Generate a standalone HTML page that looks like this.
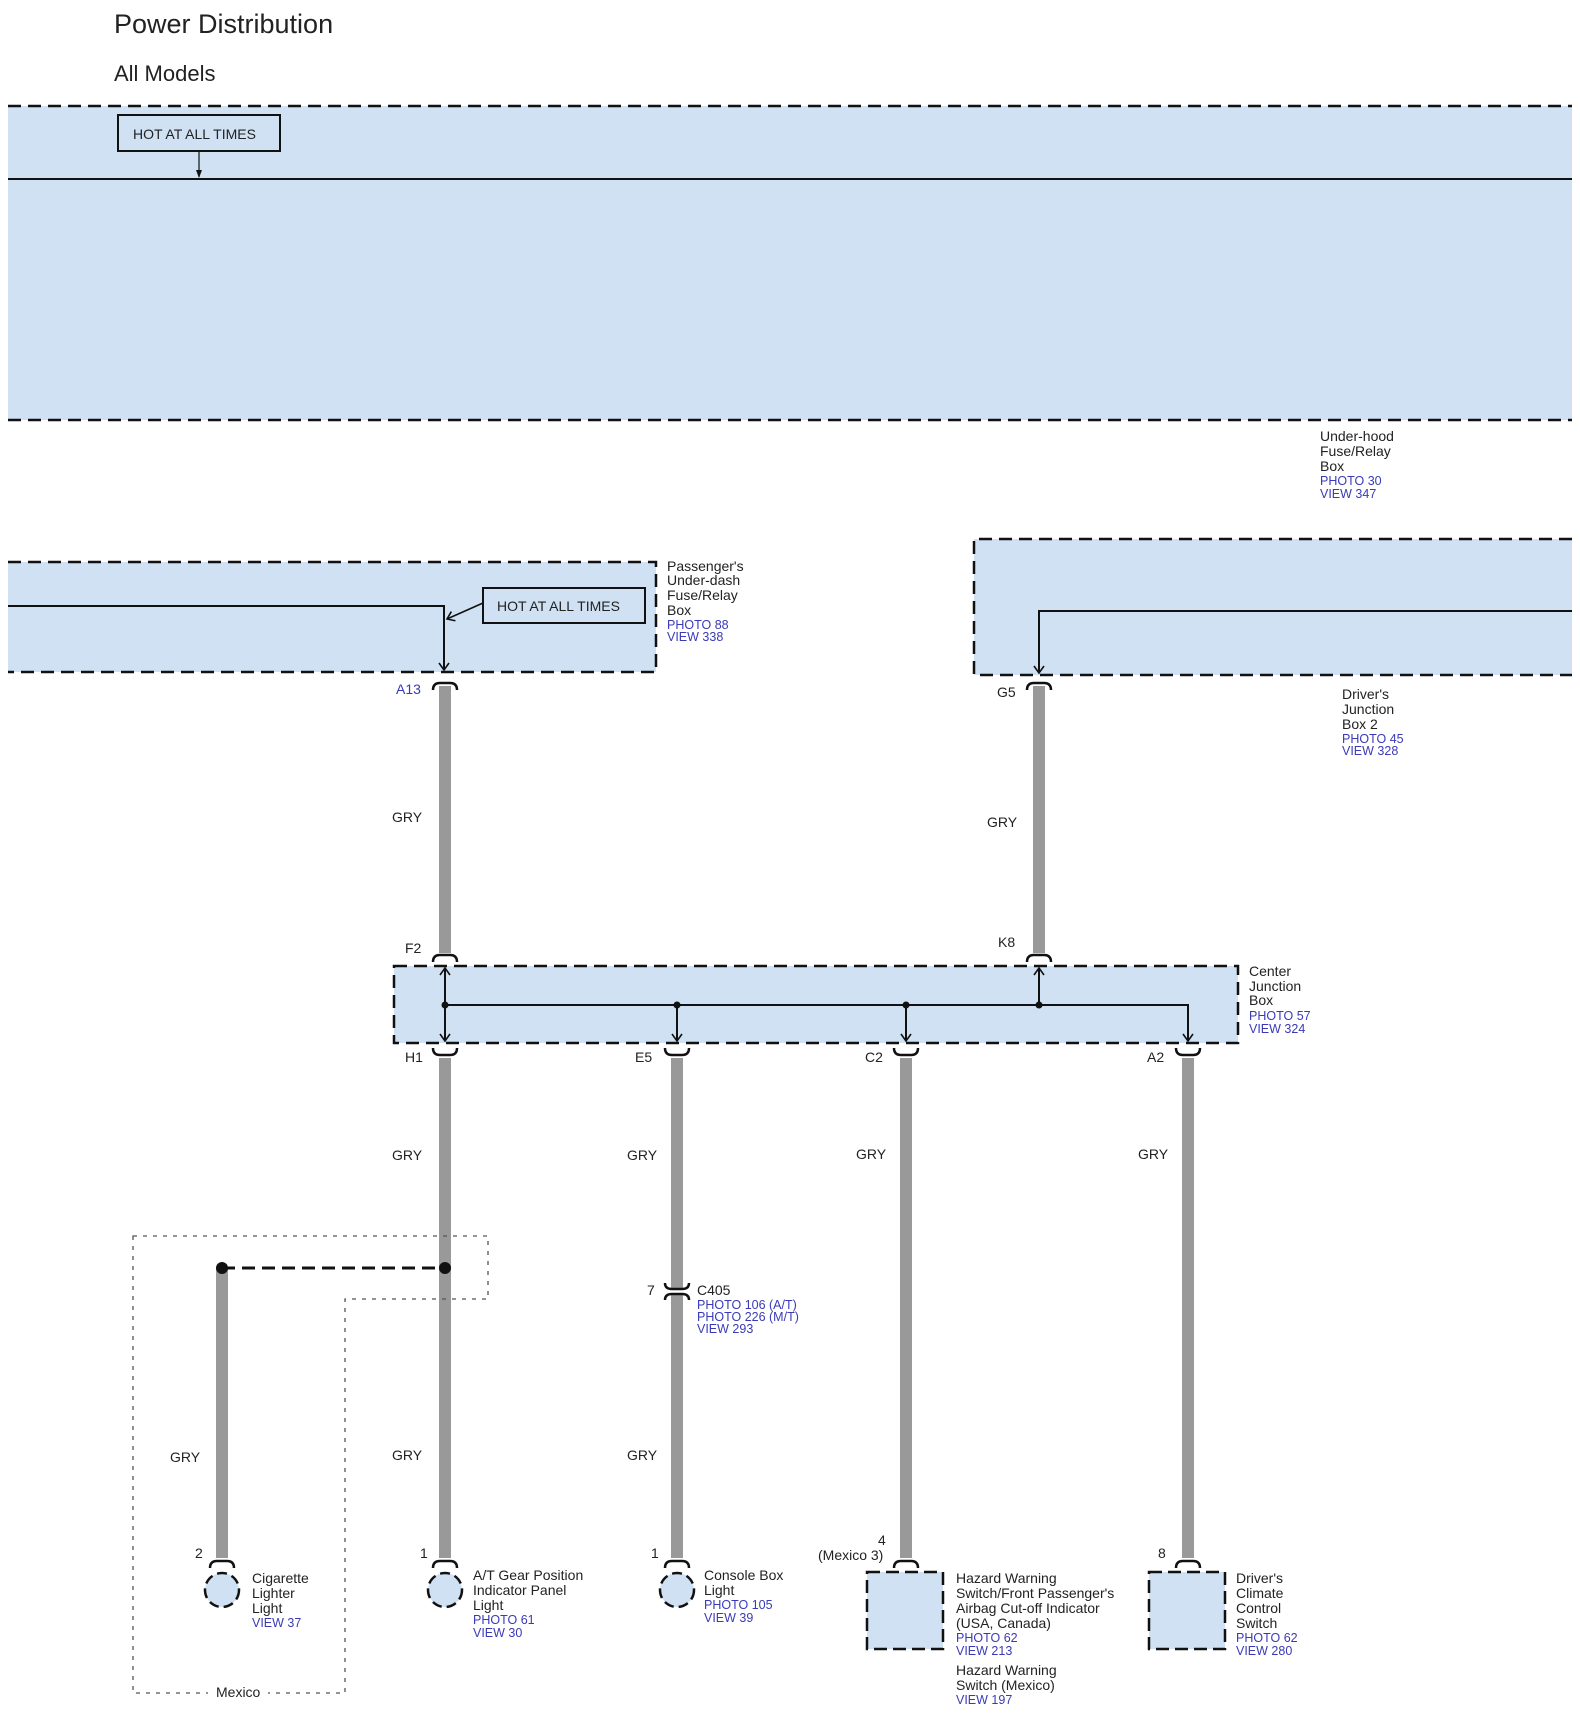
<!DOCTYPE html>
<html><head><meta charset="utf-8"><style>
body{margin:0;background:#fff;}
svg{display:block;}
text{font-family:"Liberation Sans",Arial,sans-serif;font-size:14px;fill:#222;}
.b{fill:#3a3ab8;font-size:12.5px;}
</style></head><body>
<svg width="1580" height="1714" viewBox="0 0 1580 1714" xmlns="http://www.w3.org/2000/svg">
<defs>
<marker id="ar" markerWidth="12" markerHeight="12" refX="10" refY="6" orient="auto" markerUnits="userSpaceOnUse">
<path d="M3,1 L10,6 L3,11" fill="none" stroke="#111" stroke-width="1.6"/>
</marker>
</defs>
<text x="114" y="33" style="font-size:27px">Power Distribution</text>
<text x="114" y="81" style="font-size:22px">All Models</text>

<rect x="8" y="106" width="1564" height="314" fill="#cfe1f3"/>
<line x1="8" y1="106" x2="1572" y2="106" stroke="#111" stroke-width="2.5" stroke-dasharray="13,7"/>
<line x1="8" y1="420" x2="1572" y2="420" stroke="#111" stroke-width="2.5" stroke-dasharray="13,7"/>
<line x1="8" y1="179" x2="1572" y2="179" stroke="#111" stroke-width="2"/>
<rect x="118" y="115" width="162" height="36" fill="#cfe1f3" stroke="#111" stroke-width="2"/>
<text x="133" y="139">HOT AT ALL TIMES</text>
<line x1="199" y1="151" x2="199" y2="177" stroke="#111" stroke-width="1.2"/>
<path d="M196,170 L199,178 L202,170" fill="#111"/>
<text x="1320" y="441">Under-hood</text>
<text x="1320" y="456">Fuse/Relay</text>
<text x="1320" y="471">Box</text>
<text x="1320" y="485" class="b">PHOTO 30</text>
<text x="1320" y="498" class="b">VIEW 347</text>

<rect x="8" y="562" width="648" height="110" fill="#cfe1f3"/>
<path d="M8,562 H656 V672 H8" fill="none" stroke="#111" stroke-width="2.5" stroke-dasharray="13,7"/>
<path d="M8,606 H444 V670" fill="none" stroke="#111" stroke-width="2" marker-end="url(#ar)"/>
<rect x="483" y="588" width="162" height="35" fill="#cfe1f3" stroke="#111" stroke-width="2"/>
<text x="497" y="611">HOT AT ALL TIMES</text>
<line x1="483" y1="603" x2="447" y2="619" stroke="#111" stroke-width="1.6" marker-end="url(#ar)"/>
<text x="667" y="571">Passenger's</text>
<text x="667" y="585">Under-dash</text>
<text x="667" y="600">Fuse/Relay</text>
<text x="667" y="615">Box</text>
<text x="667" y="629" class="b">PHOTO 88</text>
<text x="667" y="641" class="b">VIEW 338</text>

<rect x="974" y="539" width="598" height="136" fill="#cfe1f3"/>
<path d="M1572,539 H974 V675 H1572" fill="none" stroke="#111" stroke-width="2.5" stroke-dasharray="13,7"/>
<path d="M1572,611 H1039 V673" fill="none" stroke="#111" stroke-width="2" marker-end="url(#ar)"/>
<text x="1342" y="699">Driver's</text>
<text x="1342" y="714">Junction</text>
<text x="1342" y="729">Box 2</text>
<text x="1342" y="743" class="b">PHOTO 45</text>
<text x="1342" y="755" class="b">VIEW 328</text>

<g stroke="#999" stroke-width="12">
<line x1="445" y1="686" x2="445" y2="953"/>
<line x1="1039" y1="686" x2="1039" y2="953"/>
<line x1="445" y1="1058" x2="445" y2="1558"/>
<line x1="677" y1="1058" x2="677" y2="1558"/>
<line x1="906" y1="1058" x2="906" y2="1558"/>
<line x1="1188" y1="1058" x2="1188" y2="1558"/>
<line x1="222" y1="1268" x2="222" y2="1558"/>
</g>
<rect x="670" y="1288" width="14" height="7" fill="#fff"/>
<g fill="none" stroke="#111" stroke-width="2.5">
<path d="M433,690 Q433,683 440,683 H450 Q457,683 457,690"/>
<path d="M1027,690 Q1027,683 1034,683 H1044 Q1051,683 1051,690"/>
<path d="M433,962 Q433,955 440,955 H450 Q457,955 457,962"/>
<path d="M1027,962 Q1027,955 1034,955 H1044 Q1051,955 1051,962"/>
<path d="M433,1048 Q433,1055 440,1055 H450 Q457,1055 457,1048"/>
<path d="M665,1048 Q665,1055 672,1055 H682 Q689,1055 689,1048"/>
<path d="M894,1048 Q894,1055 901,1055 H911 Q918,1055 918,1048"/>
<path d="M1176,1048 Q1176,1055 1183,1055 H1193 Q1200,1055 1200,1048"/>
<path d="M665,1283 Q665,1289 672,1289 H682 Q689,1289 689,1283"/>
<path d="M665,1300 Q665,1294 672,1294 H682 Q689,1294 689,1300"/>
<path d="M210,1568 Q210,1561 217,1561 H227 Q234,1561 234,1568"/>
<path d="M433,1568 Q433,1561 440,1561 H450 Q457,1561 457,1568"/>
<path d="M665,1568 Q665,1561 672,1561 H682 Q689,1561 689,1568"/>
<path d="M894,1568 Q894,1561 901,1561 H911 Q918,1561 918,1568"/>
<path d="M1176,1568 Q1176,1561 1183,1561 H1193 Q1200,1561 1200,1568"/>
</g>
<text x="396" y="694" class="b" style="font-size:14px">A13</text>
<text x="997" y="697">G5</text>
<text x="392" y="822">GRY</text>
<text x="987" y="827">GRY</text>
<text x="405" y="953">F2</text>
<text x="998" y="947">K8</text>

<rect x="394" y="966" width="844" height="77" fill="#cfe1f3"/>
<rect x="394" y="966" width="844" height="77" fill="none" stroke="#111" stroke-width="2.5" stroke-dasharray="13,7"/>
<g stroke="#111" stroke-width="2" fill="none">
<path d="M445,1005 H1188 V1041" marker-end="url(#ar)"/>
<path d="M445,1005 V968" marker-end="url(#ar)"/>
<path d="M445,1005 V1041" marker-end="url(#ar)"/>
<path d="M677,1005 V1041" marker-end="url(#ar)"/>
<path d="M906,1005 V1041" marker-end="url(#ar)"/>
<path d="M1039,1005 V968" marker-end="url(#ar)"/>
</g>
<g fill="#111"><circle cx="445" cy="1005" r="3.5"/><circle cx="677" cy="1005" r="3.5"/><circle cx="906" cy="1005" r="3.5"/><circle cx="1039" cy="1005" r="3.5"/></g>
<text x="1249" y="976">Center</text>
<text x="1249" y="991">Junction</text>
<text x="1249" y="1005">Box</text>
<text x="1249" y="1020" class="b">PHOTO 57</text>
<text x="1249" y="1033" class="b">VIEW 324</text>

<text x="405" y="1062">H1</text>
<text x="635" y="1062">E5</text>
<text x="865" y="1062">C2</text>
<text x="1147" y="1062">A2</text>
<text x="392" y="1160">GRY</text>
<text x="627" y="1160">GRY</text>
<text x="856" y="1159">GRY</text>
<text x="1138" y="1159">GRY</text>

<path d="M133,1236 H488 V1299 H345 V1693 H133 Z" fill="none" stroke="#555" stroke-width="1.3" stroke-dasharray="4,6"/>
<rect x="208" y="1684" width="60" height="16" fill="#fff"/>
<text x="216" y="1697">Mexico</text>
<line x1="222" y1="1268" x2="445" y2="1268" stroke="#111" stroke-width="3" stroke-dasharray="13,7"/>
<circle cx="222" cy="1268" r="6" fill="#111"/>
<circle cx="445" cy="1268" r="6" fill="#111"/>

<text x="647" y="1295">7</text>
<text x="697" y="1295">C405</text>
<text x="697" y="1309" class="b">PHOTO 106 (A/T)</text>
<text x="697" y="1321" class="b">PHOTO 226 (M/T)</text>
<text x="697" y="1333" class="b">VIEW 293</text>

<text x="170" y="1462">GRY</text>
<text x="392" y="1460">GRY</text>
<text x="627" y="1460">GRY</text>

<text x="195" y="1558">2</text>
<text x="420" y="1558">1</text>
<text x="651" y="1558">1</text>
<text x="878" y="1545">4</text>
<text x="818" y="1560">(Mexico 3)</text>
<text x="1158" y="1558">8</text>

<g fill="#cfe1f3" stroke="#111" stroke-width="2.5" stroke-dasharray="10,5">
<circle cx="222" cy="1590" r="17"/>
<circle cx="445" cy="1590" r="17"/>
<circle cx="677" cy="1590" r="17"/>
</g>
<g fill="#cfe1f3" stroke="#111" stroke-width="2.5" stroke-dasharray="13,6">
<rect x="867" y="1572" width="76" height="77"/>
<rect x="1149" y="1572" width="76" height="77"/>
</g>
<text x="252" y="1583">Cigarette</text>
<text x="252" y="1598">Lighter</text>
<text x="252" y="1613">Light</text>
<text x="252" y="1627" class="b">VIEW 37</text>

<text x="473" y="1580">A/T Gear Position</text>
<text x="473" y="1595">Indicator Panel</text>
<text x="473" y="1610">Light</text>
<text x="473" y="1624" class="b">PHOTO 61</text>
<text x="473" y="1637" class="b">VIEW 30</text>

<text x="704" y="1580">Console Box</text>
<text x="704" y="1595">Light</text>
<text x="704" y="1609" class="b">PHOTO 105</text>
<text x="704" y="1622" class="b">VIEW 39</text>

<text x="956" y="1583">Hazard Warning</text>
<text x="956" y="1598">Switch/Front Passenger's</text>
<text x="956" y="1613">Airbag Cut-off Indicator</text>
<text x="956" y="1628">(USA, Canada)</text>
<text x="956" y="1642" class="b">PHOTO 62</text>
<text x="956" y="1655" class="b">VIEW 213</text>
<text x="956" y="1675">Hazard Warning</text>
<text x="956" y="1690">Switch (Mexico)</text>
<text x="956" y="1704" class="b">VIEW 197</text>

<text x="1236" y="1583">Driver's</text>
<text x="1236" y="1598">Climate</text>
<text x="1236" y="1613">Control</text>
<text x="1236" y="1628">Switch</text>
<text x="1236" y="1642" class="b">PHOTO 62</text>
<text x="1236" y="1655" class="b">VIEW 280</text>
</svg>
</body></html>
